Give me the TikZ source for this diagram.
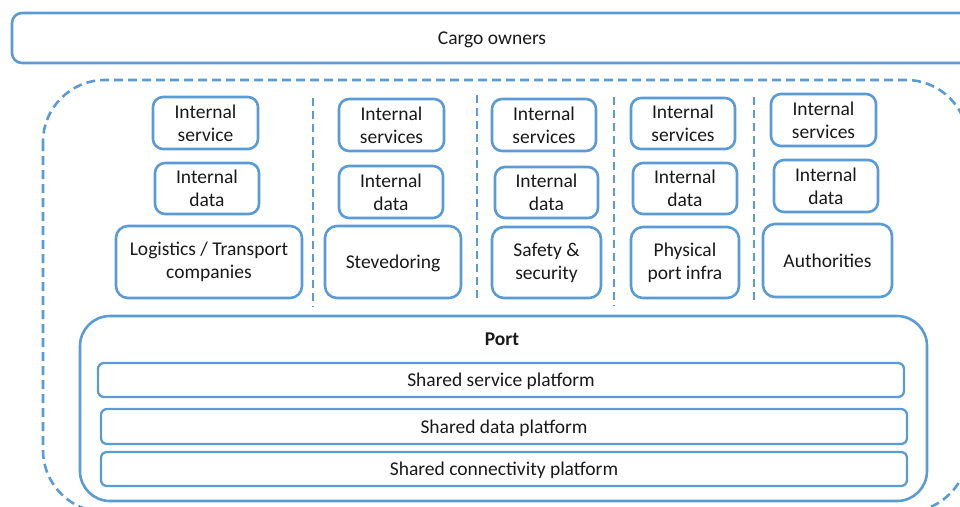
\documentclass[tikz,border=0pt]{standalone}
\usepackage{fontspec}
\setmainfont{Carlito}
\definecolor{boxblue}{HTML}{5B9BD5}
\tikzset{
  box/.style={draw=boxblue, line width=2.6pt, rounded corners=10pt, align=center, inner sep=0pt, text=black!90, font=\fontsize{19.5}{23}\selectfont},
  oneline/.style={text depth=0pt},
  platform/.style={box, oneline, line width=2.3pt, rounded corners=6pt},
  sep/.style={draw=boxblue, line width=2pt, dash pattern=on 8pt off 5pt},
}
\begin{document}
\begin{tikzpicture}[x=1pt, y=-1pt]
			\useasboundingbox (0,0) rectangle (960,506);
			\clip (0,0) rectangle (960,506);
			\node[box, oneline] (cargo) at (492,38) [minimum width=960, minimum height=50] {Cargo owners};
			\draw[draw=boxblue, line width=2.6pt, dash pattern=on 9pt off 5pt, rounded corners=62pt] (43,80) rectangle (968,512);
			% first column
			\node[box, minimum width=105, minimum height=52] (svc1) at (205.5,123) {Internal\\service};
			\node[box, minimum width=104, minimum height=51] (dat1) at (207,188.5) {Internal\\data};
			\node[box, minimum width=186, minimum height=72, rounded corners=12pt] (logi) at (209,262) {Logistics / Transport\\companies};
			% second column
			\node[box, minimum width=105, minimum height=52] (svc2) at (391.5,125) {Internal\\services};
			\node[box, minimum width=104, minimum height=52] (dat2) at (391,192) {Internal\\data};
			\node[box, oneline, minimum width=136, minimum height=72, rounded corners=12pt] (steve) at (393,262) {Stevedoring};
			% third column
			\node[box, minimum width=104, minimum height=52] (svc3) at (544,125) {Internal\\services};
			\node[box, minimum width=103, minimum height=51] (dat3) at (546.5,192.5) {Internal\\data};
			\node[box, minimum width=109, minimum height=71, rounded corners=12pt] (safety) at (546.5,262.5) {Safety \&\\security};
			% fourth column
			\node[box, minimum width=104, minimum height=51] (svc4) at (683,123.5) {Internal\\services};
			\node[box, minimum width=104, minimum height=51] (dat4) at (685,188.5) {Internal\\data};
			\node[box, minimum width=108, minimum height=71, rounded corners=12pt] (infra) at (685,262.5) {Physical\\port infra};
			% fifth column
			\node[box, minimum width=105, minimum height=52] (svc5) at (823.5,120) {Internal\\services};
			\node[box, minimum width=104, minimum height=52] (dat5) at (826,186) {Internal\\data};
			\node[box, oneline, minimum width=129, minimum height=73, rounded corners=12pt] (auth) at (827.5,260.5) {Authorities};
			% separators
			\coordinate (s1t) at (313,98);  \coordinate (s1b) at (313,307);
			\coordinate (s2t) at (477,95);  \coordinate (s2b) at (477,302);
			\coordinate (s3t) at (614,97);  \coordinate (s3b) at (614,306);
			\coordinate (s4t) at (754,97);  \coordinate (s4b) at (754,302);
			\draw[sep] (s1t) -- (s1b);
			\draw[sep] (s2t) -- (s2b);
			\draw[sep] (s3t) -- (s3b);
			\draw[sep] (s4t) -- (s4b);
			% port
			\node[box, minimum width=847, minimum height=185, rounded corners=30pt] (port) at (503.5,408.5) {};
			\node[font=\fontsize{19.5}{23}\selectfont\bfseries, text=black!90, oneline] (portlbl) at (502,339) {Port};
			\node[platform, minimum width=806, minimum height=34] (ssp) at (501,380) {Shared service platform};
			\node[platform, minimum width=806, minimum height=35] (sdp) at (504,426.5) {Shared data platform};
			\node[platform, minimum width=806, minimum height=34] (scp) at (504,469) {Shared connectivity platform};
		\end{tikzpicture}
\end{document}
